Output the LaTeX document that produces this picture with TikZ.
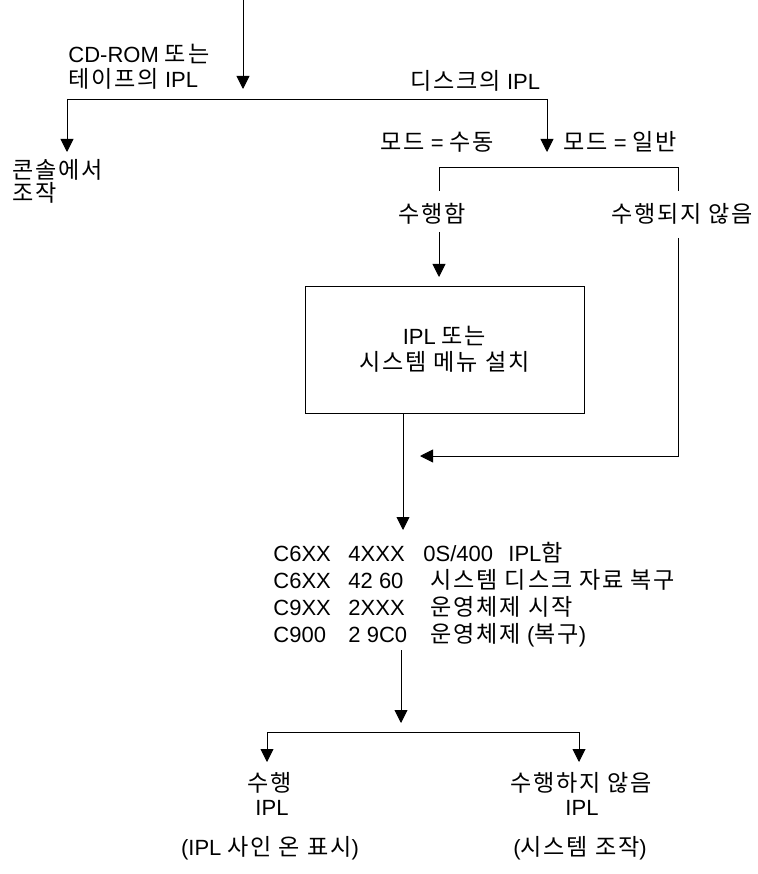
\documentclass[tikz,border=0pt]{standalone}
\usepackage{fontspec}
\setmainfont{Liberation Sans}
\newfontfamily\kr{Noto Sans CJK KR}[Scale=1.05,LetterSpace=8]
\usetikzlibrary{arrows.meta}
\begin{document}
\begin{tikzpicture}[x=1pt,y=-1pt,line width=0.9pt,
  font=\fontsize{22}{26}\selectfont, inner sep=0pt,
  arr/.style={-{Triangle[width=13pt,length=13pt]}},
  lbl/.style={inner sep=0pt},
  boxnode/.style={draw,minimum width=279pt,minimum height=127pt,align=center,inner sep=0pt}]
\useasboundingbox (0,0) rectangle (757,874);

% --- top split
\coordinate (start) at (243,0);
\coordinate (toptip) at (243,89);
\coordinate (hl) at (67,99);
\coordinate (hr) at (547,99);
\coordinate (ltip) at (67,152);
\coordinate (rtip) at (547,152);
\draw[arr] (start) -- (toptip);
\draw (hl) -- (hr);
\draw[arr] (hl) -- (ltip);
\draw[arr] (hr) -- (rtip);

\node[lbl,anchor=base west] (cd1) at (68,63) {CD-ROM {\kr 또는}};
\node[lbl,anchor=base west] (cd2) at (68,88) {{\kr 테이프의} IPL};
\node[lbl,anchor=base west] (disk) at (410,90) {{\kr 디스크의} IPL};
\node[lbl,anchor=base west] (cons1) at (12,179) {\kr 콘솔에서};
\node[lbl,anchor=base west] (cons2) at (12,202) {\kr 조작};
\node[lbl,anchor=base west] (manual) at (380,151) {{\kr 모드} = {\kr 수동}};
\node[lbl,anchor=base west] (normal) at (563,151) {{\kr 모드} = {\kr 일반}};

% --- second split
\coordinate (h2l) at (439,167);
\coordinate (h2r) at (678,167);
\coordinate (v2l) at (439,191);
\coordinate (v2r) at (678,191);
\draw (v2l) -- (h2l) -- (h2r) -- (v2r);
\node[lbl,anchor=base] (done) at (432,223) {\kr 수행함};
\node[lbl,anchor=base] (notdone) at (682,223) {\kr 수행되지 않음};

% --- box
\node[boxnode] (box) at (444.5,349.5) {IPL {\kr 또는}\\[0pt]{\kr 시스템 메뉴 설치}};
\coordinate (a1s) at (439,232);
\coordinate (a1t) at (439,277);
\draw[arr] (a1s) -- (a1t);
\coordinate (rs) at (678,238);
\coordinate (rc) at (678,456);
\coordinate (rtip2) at (420,456);
\draw[arr] (rs) -- (rc) -- (rtip2);

\coordinate (bs) at (403,413);
\coordinate (btip) at (403,530);
\draw[arr] (bs) -- (btip);

% --- codes
\node[lbl,anchor=base west] (c1) at (273,561) {\makebox[75pt][l]{C6XX}\makebox[75pt][l]{4XXX}\makebox[85pt][l]{0S/400}IPL{\kr 함}};
\node[lbl,anchor=base west] (c2) at (273,588) {\makebox[75pt][l]{C6XX}\makebox[82pt][l]{42 60}{\kr 시스템 디스크 자료 복구}};
\node[lbl,anchor=base west] (c3) at (273,615) {\makebox[75pt][l]{C9XX}\makebox[82pt][l]{2XXX}{\kr 운영체제 시작}};
\node[lbl,anchor=base west] (c4) at (273,642) {\makebox[75pt][l]{C900}\makebox[82pt][l]{2 9C0}{\kr 운영체제} ({\kr 복구})};

% --- bottom split
\coordinate (cs) at (401,650);
\coordinate (ctip) at (401,723);
\coordinate (h3l) at (267,732);
\coordinate (h3r) at (579,732);
\coordinate (l3tip) at (267,762);
\coordinate (r3tip) at (579,762);
\draw[arr] (cs) -- (ctip);
\draw (h3l) -- (h3r);
\draw[arr] (h3l) -- (l3tip);
\draw[arr] (h3r) -- (r3tip);

\node[lbl,anchor=base] (y1) at (270,791) {\kr 수행};
\node[lbl,anchor=base] (y2) at (272,815) {IPL};
\node[lbl,anchor=base] (n1) at (581,791) {\kr 수행하지 않음};
\node[lbl,anchor=base] (n2) at (582,815) {IPL};
\node[lbl,anchor=base] (y3) at (270,855) {(IPL {\kr 사인 온 표시})};
\node[lbl,anchor=base] (n3) at (580,855) {({\kr 시스템 조작})};
\end{tikzpicture}
\end{document}
